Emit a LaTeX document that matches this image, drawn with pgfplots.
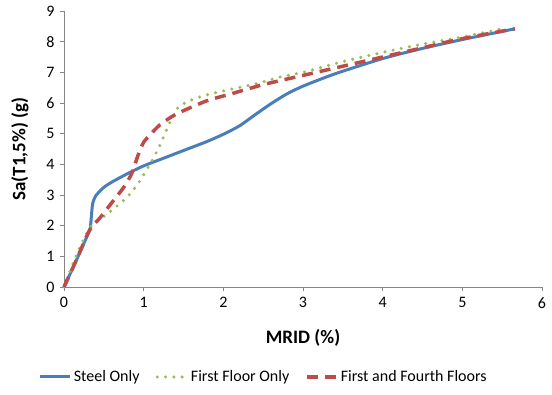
\documentclass[border=0pt]{standalone}
\usepackage{pgfplots}
\pgfplotsset{compat=1.18}
\usepackage{fontspec}
\setmainfont{Carlito}
\definecolor{cblue}{HTML}{4A7EBB}
\definecolor{cgreen}{HTML}{9BBB59}
\definecolor{cred}{HTML}{BE4B48}
\definecolor{caxis}{HTML}{868686}
\begin{document}
\begin{tikzpicture}[x=1pt,y=1pt]
\begin{axis}[
  scale only axis, width=478pt, height=276pt,
  at={(0,0)}, anchor=south west,
  xmin=0, xmax=6, ymin=0, ymax=9,
  xtick={0,1,2,3,4,5,6}, ytick={0,1,...,9},
  axis x line=bottom, axis y line=left,
  axis line style={caxis, line width=0.8pt, -},
  tick align=outside, major tick length=4pt,
  tick style={caxis, line width=0.8pt},
  /pgf/number format/assume math mode=true,
  ticklabel style={font=\fontsize{16}{19}\selectfont, text=black},
  xticklabel style={yshift=-3pt},
  yticklabel style={xshift=-2pt},
  xlabel={\textbf{MRID (\%)}},
  ylabel={\textbf{Sa(T1,5\%) (g)}},
  label style={font=\fontsize{19}{23}\selectfont},
  xlabel style={at={(axis description cs:0.5,-0.185)}, anchor=center},
  ylabel style={at={(axis description cs:-0.092,0.5)}, anchor=center},
  legend columns=3,
  legend style={draw=none, fill=none, at={(axis description cs:0.418,-0.326)}, anchor=center,
    font=\fontsize{16}{19}\selectfont, /tikz/every even column/.append style={column sep=14pt},
    inner sep=0pt},
  legend image code/.code={\draw[#1] (0pt,0pt) -- (30pt,0pt);},
  legend cell align=left,
  clip=false,
]
\addplot[cblue, line width=3pt, smooth, tension=0.4] coordinates {
(0,0) (0.1,0.56) (0.2,1.13) (0.3,1.72) (0.33,1.92) (0.345,2.35) (0.36,2.72) (0.4,2.98) (0.5,3.25) (0.6,3.42) (0.8,3.7) (1.0,3.95) (1.2,4.15) (1.5,4.45) (1.8,4.75) (2.0,4.98) (2.2,5.25) (2.4,5.62) (2.6,5.98) (2.8,6.3) (3.0,6.55) (3.4,6.95) (4.0,7.45) (4.5,7.78) (5.0,8.07) (5.66,8.42)
};
\addlegendentry{Steel Only}
\addplot[cgreen, line width=3.4pt, line cap=round, dash pattern=on 0pt off 8.3pt, smooth, tension=0.4] coordinates {
(0,0) (0.08,0.55) (0.2,1.3) (0.33,1.95) (0.45,2.2) (0.6,2.5) (0.8,2.95) (0.95,3.45) (1.1,4.1) (1.2,4.6) (1.3,5.2) (1.38,5.65) (1.45,5.9) (1.6,6.1) (1.8,6.27) (2.1,6.45) (2.4,6.62) (2.7,6.84) (3.0,7.0) (3.5,7.35) (4.0,7.65) (4.5,7.92) (5.0,8.15) (5.55,8.45)
};
\addlegendentry{First Floor Only}
\addplot[cred, line width=3.5pt, dash pattern=on 11pt off 7pt, smooth, tension=0.4] coordinates {
(0,0) (0.15,0.85) (0.32,1.85) (0.45,2.25) (0.6,2.75) (0.75,3.25) (0.85,3.7) (0.93,4.3) (1.0,4.72) (1.1,5.02) (1.2,5.28) (1.35,5.55) (1.5,5.75) (1.8,6.08) (2.1,6.3) (2.5,6.6) (3.0,6.9) (3.5,7.2) (4.0,7.5) (4.5,7.8) (5.0,8.1) (5.66,8.42)
};
\addlegendentry{First and Fourth Floors}
\end{axis}
\pgfresetboundingbox
\path[use as bounding box] (-64pt,-107pt) rectangle (488pt,287pt);
\end{tikzpicture}
\end{document}
